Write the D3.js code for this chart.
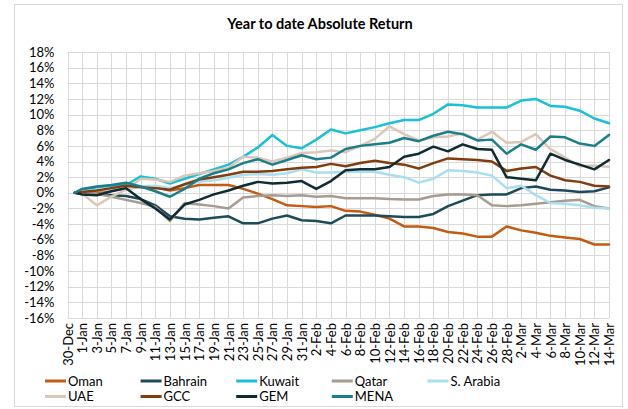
<!DOCTYPE html>
<html>
<head>
<meta charset="utf-8">
<script src="https://cdn.jsdelivr.net/npm/d3@7"></script>
<style>
  html, body { margin: 0; padding: 0; background: #fff; }
  svg { display: block; font-family: Lato, "Open Sans", sans-serif; }
</style>
</head>
<body>
<svg id="chart" width="628" height="409"></svg>
<script>
// ---- data ----
const title = "Year to date Absolute Return";

const dates = ["2018-12-31","2019-01-01","2019-01-03","2019-01-05","2019-01-07","2019-01-09","2019-01-11","2019-01-13",
  "2019-01-15","2019-01-17","2019-01-19","2019-01-21","2019-01-23","2019-01-25","2019-01-27","2019-01-29","2019-01-31",
  "2019-02-02","2019-02-04","2019-02-06","2019-02-08","2019-02-10","2019-02-12","2019-02-14","2019-02-16","2019-02-18",
  "2019-02-20","2019-02-22","2019-02-24","2019-02-26","2019-02-28","2019-03-02","2019-03-04","2019-03-06","2019-03-08",
  "2019-03-10","2019-03-12","2019-03-14"];

const oman     = [0,-0.2,0.1,0.3,0.5,0.8,0.7,0.3,0.6,1.0,1.0,1.0,0.5,-0.1,-0.8,-1.6,-1.7,-1.8,-1.7,-2.3,-2.4,-2.8,-3.3,-4.3,-4.3,-4.5,-5.0,-5.2,-5.6,-5.6,-4.3,-4.8,-5.1,-5.5,-5.7,-5.9,-6.6,-6.6];
const bahrain  = [0,0.0,-0.2,-0.3,-0.4,-0.8,-1.6,-3.0,-3.3,-3.4,-3.2,-3.0,-3.9,-3.9,-3.3,-2.9,-3.5,-3.6,-3.9,-2.9,-2.9,-2.9,-3.0,-3.1,-3.1,-2.7,-1.7,-1.0,-0.3,-0.2,-0.2,0.6,0.8,0.4,0.3,0.1,0.2,0.7];
const kuwait   = [0,0.4,0.7,0.9,1.0,2.1,1.8,1.2,1.8,2.4,3.0,3.6,4.6,5.8,7.4,6.0,5.7,6.8,8.1,7.6,8.0,8.4,8.9,9.3,9.3,10.1,11.3,11.2,10.9,10.9,10.9,11.8,12.0,11.1,11.0,10.5,9.5,8.9];
const qatar    = [0,0.0,-0.1,-0.5,-0.9,-1.3,-1.8,-3.6,-1.3,-1.5,-1.7,-2.0,-0.6,-0.4,-0.3,-0.4,-0.3,-0.5,-0.4,-0.7,-0.7,-0.7,-0.8,-0.85,-0.85,-0.4,-0.2,-0.2,-0.3,-1.6,-1.7,-1.6,-1.4,-1.2,-1.0,-0.9,-1.7,-2.0];
const saudi    = [0,0.2,0.3,0.4,0.5,0.8,0.9,0.6,1.0,1.4,1.6,1.9,2.3,2.4,2.3,2.5,3.0,2.6,2.6,2.7,2.7,2.7,2.3,2.0,1.3,1.8,2.9,2.8,2.6,2.2,0.6,0.9,-0.3,-1.3,-1.4,-1.6,-1.9,-2.0];
const uae      = [0,-0.1,-1.6,-0.5,0.4,1.8,1.7,1.4,2.2,2.5,2.8,3.2,4.6,4.5,4.0,4.5,5.1,5.2,5.4,5.2,6.0,6.9,8.5,7.5,6.7,7.1,7.2,7.6,6.8,7.8,6.4,6.5,7.5,5.6,4.5,3.4,3.5,3.3];
const gcc      = [0,0.1,0.3,0.6,0.9,0.7,0.6,0.4,1.1,1.7,2.0,2.3,2.7,2.7,2.8,3.0,3.2,3.3,3.7,3.4,3.8,4.1,3.8,3.6,3.1,3.8,4.4,4.3,4.2,4.0,2.8,3.1,3.3,2.2,1.6,1.4,0.9,0.8];
const gem      = [0,-0.2,-0.3,0.2,0.6,-0.8,-2.0,-3.4,-1.5,-0.9,-0.2,0.3,0.9,1.4,1.2,1.3,1.5,0.5,1.5,2.9,3.0,3.0,3.3,4.6,5.0,5.9,5.3,6.2,5.6,5.5,2.0,1.8,1.6,5.0,4.2,3.6,3.0,4.2];
const mena     = [0,0.5,0.8,1.0,1.3,0.8,0.2,-0.5,0.5,1.8,2.5,3.0,3.8,4.3,3.6,4.2,4.8,4.3,4.5,5.6,6.0,6.2,6.4,7.0,6.6,7.3,7.8,7.5,6.7,6.8,5.0,6.2,5.5,7.2,7.1,6.3,6.0,7.4];

const seriesNames  = ["Oman","Bahrain","Kuwait","Qatar","S. Arabia","UAE","GCC","GEM","MENA"];
const seriesValues = [oman, bahrain, kuwait, qatar, saudi, uae, gcc, gem, mena];
const seriesColors = ["#C55A11","#1D4B5B","#1ABFD8","#A89B8F","#A8DFF1","#DCC7B6","#843C0C","#0F2B34","#1B7E8B"];

const xTickLabels = ["30-Dec","1-Jan","3-Jan","5-Jan","7-Jan","9-Jan","11-Jan","13-Jan","15-Jan","17-Jan","19-Jan",
  "21-Jan","23-Jan","25-Jan","27-Jan","29-Jan","31-Jan","2-Feb","4-Feb","6-Feb","8-Feb","10-Feb","12-Feb","14-Feb",
  "16-Feb","18-Feb","20-Feb","22-Feb","24-Feb","26-Feb","28-Feb","2-Mar","4-Mar","6-Mar","8-Mar","10-Mar","12-Mar","14-Mar"];
const yTicks = [-16,-14,-12,-10,-8,-6,-4,-2,0,2,4,6,8,10,12,14,16,18];

// ---- chart ----
const svg = d3.select("#chart");
const parse = d3.utcParse("%Y-%m-%d");
const parseLabel = s => d3.utcParse("%d-%b-%Y")(s + (s.endsWith("Dec") ? "-2018" : "-2019"));
const tickDates = xTickLabels.map(parseLabel);

const plotL = 67.5, plotR = 609, plotT = 52, plotB = 318;
const x = d3.scaleUtc().domain([tickDates[0], tickDates[tickDates.length - 1]]).range([plotL, plotR]);
const y = d3.scaleLinear().domain([-16, 18]).range([plotB, plotT]);

svg.append("rect").attr("x", 0).attr("y", 0).attr("width", 628).attr("height", 409).attr("fill", "#fff");
svg.append("rect").attr("x", 14.5).attr("y", 4.5).attr("width", 608).attr("height", 402)
  .attr("fill", "none").attr("stroke", "#D9D9D9").attr("stroke-width", 1);

svg.append("text").attr("x", 320).attr("y", 29).attr("text-anchor", "middle")
  .style("font-weight", "bold").style("font-size", "14.5px").attr("fill", "#000").text(title);

// gridlines
const grid = svg.append("g");
grid.selectAll("line.h").data(yTicks).join("line").attr("class", "h")
  .attr("x1", plotL).attr("x2", plotR).attr("y1", d => Math.round(y(d)) + 0.5).attr("y2", d => Math.round(y(d)) + 0.5)
  .attr("stroke", "#D9D9D9").attr("stroke-width", 1);
grid.selectAll("line.v").data(tickDates).join("line").attr("class", "v")
  .attr("x1", d => Math.round(x(d)) + 0.5).attr("x2", d => Math.round(x(d)) + 0.5)
  .attr("y1", plotT).attr("y2", plotB)
  .attr("stroke", "#D9D9D9").attr("stroke-width", 1);

// y axis
const yAxis = svg.append("g").attr("transform", `translate(${plotL},0)`)
  .call(d3.axisLeft(y).tickValues(yTicks).tickFormat(d => d + "%").tickSize(0).tickPadding(13));
yAxis.select(".domain").remove();
yAxis.selectAll("text").style("font-family", "Lato, sans-serif").style("font-size", "13px").attr("fill", "#000");

// x axis
const xAxis = svg.append("g").attr("transform", `translate(0,${plotB})`)
  .call(d3.axisBottom(x).tickValues(tickDates).tickFormat((d, i) => xTickLabels[i]).tickSize(0));
xAxis.select(".domain").remove();
xAxis.selectAll("text")
  .attr("transform", "rotate(-90)").attr("x", -5).attr("y", 0).attr("dy", "0.35em")
  .style("text-anchor", "end").style("font-family", "Lato, sans-serif").style("font-size", "13px").attr("fill", "#000");

// lines
const line = d3.line().x((d, i) => x(parse(dates[i]))).y(d => y(d));
svg.append("g").selectAll("path").data(seriesValues).join("path")
  .attr("d", d => line(d))
  .attr("fill", "none")
  .attr("stroke", (d, i) => seriesColors[i])
  .attr("stroke-width", 2.5)
  .attr("stroke-linejoin", "round")
  .attr("stroke-linecap", "round");

// legend
const legend = svg.append("g");
seriesNames.forEach((name, i) => {
  const col = i < 5 ? i : i - 5;
  const row = i < 5 ? 0 : 1;
  const lx = 45 + col * 95.6, ly = 381 + row * 15.5;
  const g = legend.append("g").attr("transform", `translate(${lx},${ly})`);
  g.append("line").attr("x1", 0).attr("x2", 21).attr("y1", 0).attr("y2", 0)
    .attr("stroke", seriesColors[i]).attr("stroke-width", 3);
  g.append("text").attr("x", 23).attr("y", 0).attr("dy", "0.35em")
    .style("font-size", "13px").attr("fill", "#000").text(name);
});
</script>
</body>
</html>
